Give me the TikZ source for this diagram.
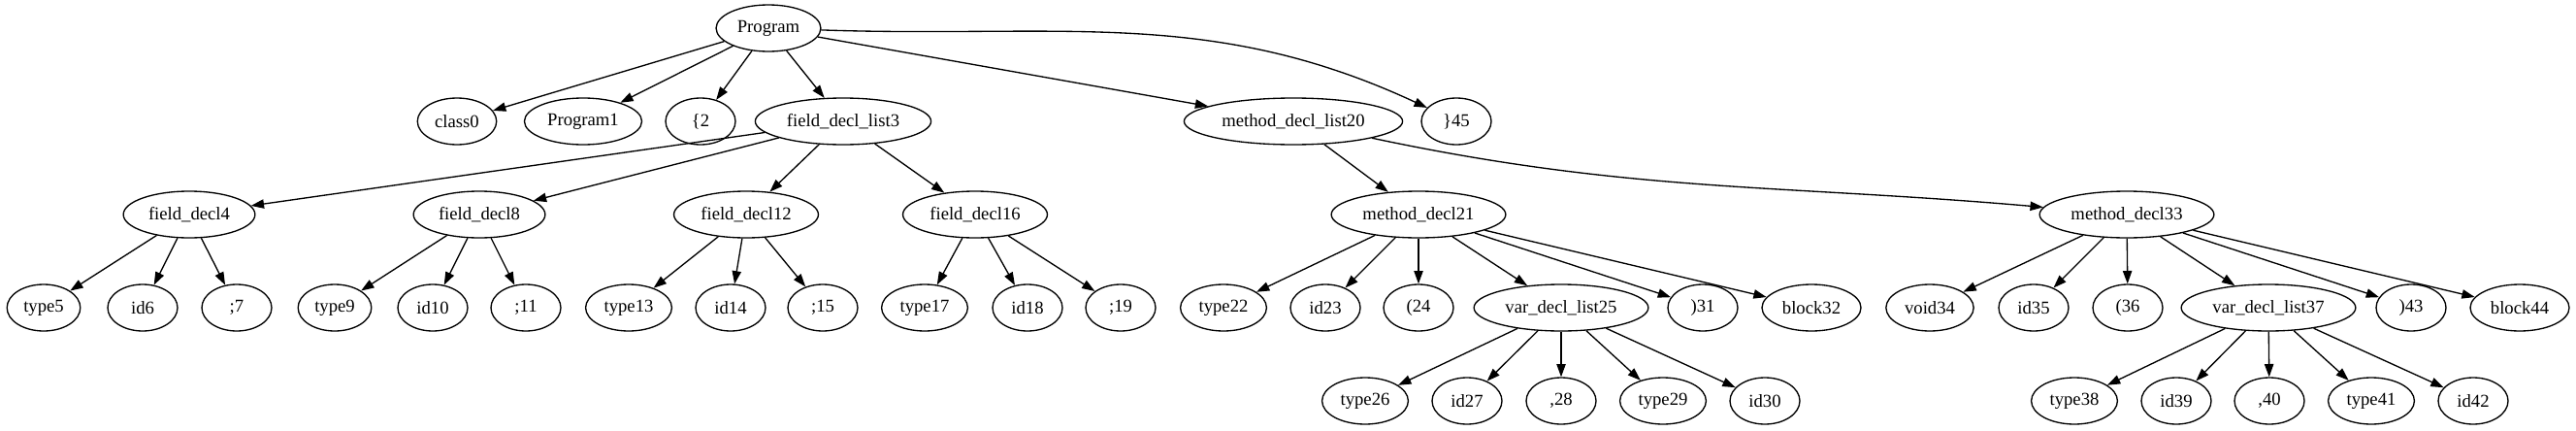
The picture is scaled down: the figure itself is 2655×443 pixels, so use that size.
\documentclass[tikz,border=0pt]{standalone}
\usepackage{fontspec}
\setmainfont{Liberation Serif}
\usetikzlibrary{shapes.geometric,arrows.meta}
\tikzstyle{every node}=[draw=black,ellipse,line width=1pt,inner xsep=4.5pt,inner ysep=2pt,minimum width=54pt,minimum height=36pt,font=\fontsize{14pt}{16pt}\selectfont]
\tikzstyle{arr}=[line width=1pt,-{Triangle[length=10pt,width=7pt]}]
\begin{document}
\begin{tikzpicture}[x=0.75pt,y=-0.75pt]
  \useasboundingbox (0,0) rectangle (2655,443);
  \node (p) at (792,29) {Program};
  \node (n0) at (471,125) {class0};
  \node (n1) at (601,125) {Program1};
  \node (n2) at (722,125) {\{2};
  \node (n3) at (869,125) {field\_decl\_list3};
  \node (n20) at (1333,125) {method\_decl\_list20};
  \node (n45) at (1501,125) {\}45};
  \node (n4) at (195,221) {field\_decl4};
  \node (n8) at (494,221) {field\_decl8};
  \node (n12) at (769,221) {field\_decl12};
  \node (n16) at (1005,221) {field\_decl16};
  \node (n21) at (1462,221) {method\_decl21};
  \node (n33) at (2192,221) {method\_decl33};
  \node (n5) at (45,317) {type5};
  \node (n6) at (147,317) {id6};
  \node (n7) at (244,317) {;7};
  \node (n9) at (345,317) {type9};
  \node (n10) at (446,317) {id10};
  \node (n11) at (542,317) {;11};
  \node (n13) at (648,317) {type13};
  \node (n14) at (753,317) {id14};
  \node (n15) at (848,317) {;15};
  \node (n17) at (953,317) {type17};
  \node (n18) at (1059,317) {id18};
  \node (n19) at (1155,317) {;19};
  \node (n22) at (1261,317) {type22};
  \node (n23) at (1366,317) {id23};
  \node (n24) at (1462,317) {(24};
  \node (n25) at (1609,317) {var\_decl\_list25};
  \node (n31) at (1755,317) {)31};
  \node (n32) at (1867,317) {block32};
  \node (n34) at (1989,317) {void34};
  \node (n35) at (2096,317) {id35};
  \node (n36) at (2193,317) {(36};
  \node (n37) at (2338,317) {var\_decl\_list37};
  \node (n43) at (2485,317) {)43};
  \node (n44) at (2597,317) {block44};
  \node (n26) at (1407,413) {type26};
  \node (n27) at (1512,413) {id27};
  \node (n28) at (1609,413) {,28};
  \node (n29) at (1714,413) {type29};
  \node (n30) at (1819,413) {id30};
  \node (n38) at (2138,413) {type38};
  \node (n39) at (2243,413) {id39};
  \node (n40) at (2339,413) {,40};
  \node (n41) at (2444,413) {type41};
  \node (n42) at (2549,413) {id42};
  \draw[arr] (p) -- (n0); \draw[arr] (p) -- (n1); \draw[arr] (p) -- (n2);
  \draw[arr] (p) -- (n3); \draw[arr] (p) -- (n20);
  \draw[arr] (p) to[out=-2,in=155] (n45);
  \draw[arr] (n3) -- (n4); \draw[arr] (n3) -- (n8); \draw[arr] (n3) -- (n12); \draw[arr] (n3) -- (n16);
  \draw[arr] (n20) -- (n21);
  \draw[arr] (n20) to[out=-12,in=175] (n33);
  \draw[arr] (n4) -- (n5); \draw[arr] (n4) -- (n6); \draw[arr] (n4) -- (n7);
  \draw[arr] (n8) -- (n9); \draw[arr] (n8) -- (n10); \draw[arr] (n8) -- (n11);
  \draw[arr] (n12) -- (n13); \draw[arr] (n12) -- (n14); \draw[arr] (n12) -- (n15);
  \draw[arr] (n16) -- (n17); \draw[arr] (n16) -- (n18); \draw[arr] (n16) -- (n19);
  \draw[arr] (n21) -- (n22); \draw[arr] (n21) -- (n23); \draw[arr] (n21) -- (n24);
  \draw[arr] (n21) -- (n25); \draw[arr] (n21) -- (n31); \draw[arr] (n21) -- (n32);
  \draw[arr] (n25) -- (n26); \draw[arr] (n25) -- (n27); \draw[arr] (n25) -- (n28);
  \draw[arr] (n25) -- (n29); \draw[arr] (n25) -- (n30);
  \draw[arr] (n33) -- (n34); \draw[arr] (n33) -- (n35); \draw[arr] (n33) -- (n36);
  \draw[arr] (n33) -- (n37); \draw[arr] (n33) -- (n43); \draw[arr] (n33) -- (n44);
  \draw[arr] (n37) -- (n38); \draw[arr] (n37) -- (n39); \draw[arr] (n37) -- (n40);
  \draw[arr] (n37) -- (n41); \draw[arr] (n37) -- (n42);
\end{tikzpicture}
\end{document}
